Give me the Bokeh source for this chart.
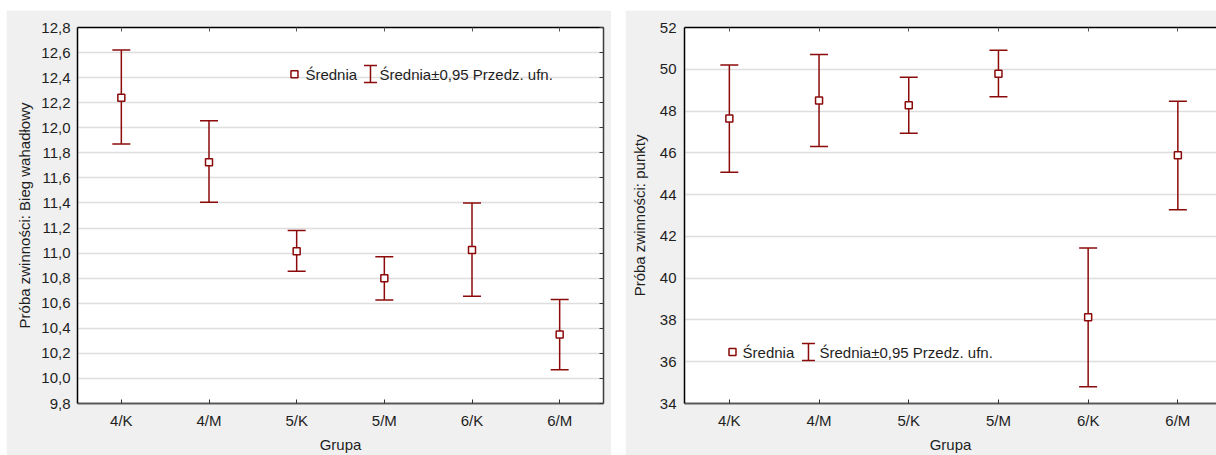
from bokeh.plotting import figure
from bokeh.layouts import row
from bokeh.models import (Range1d, FixedTicker, LinearAxis, Whisker, TeeHead,
                          ColumnDataSource, Label, CustomJSTickFormatter)
from bokeh.embed import file_html
from bokeh.resources import INLINE

# ---- data -------------------------------------------------------------
groups = ["4/K", "4/M", "5/K", "5/M", "6/K", "6/M"]

# shuttle run (Bieg wahadłowy): mean and 95% confidence interval
shuttle_mean = [12.24, 11.725, 11.015, 10.80, 11.025, 10.35]
shuttle_lower = [11.87, 11.405, 10.855, 10.625, 10.655, 10.07]
shuttle_upper = [12.62, 12.055, 11.18, 10.97, 11.40, 10.63]
shuttle_ticks = [9.8, 10.0, 10.2, 10.4, 10.6, 10.8, 11.0, 11.2, 11.4,
                 11.6, 11.8, 12.0, 12.2, 12.4, 12.6, 12.8]

# agility score (punkty): mean and 95% confidence interval
points_mean = [47.64, 48.51, 48.28, 49.78, 38.13, 45.89]
points_lower = [45.07, 46.30, 46.94, 48.68, 34.80, 43.27]
points_upper = [50.21, 50.71, 49.62, 50.91, 41.45, 48.47]
points_ticks = [34, 36, 38, 40, 42, 44, 46, 48, 50, 52]

legend_mean = "Średnia"
legend_ci = "Średnia±0,95 Przedz. ufn."
x_title = "Grupa"

# ---- style ------------------------------------------------------------
FONT = "Liberation Sans"
TXT = "#1e1e1e"
RED = "#8b0a0a"
PANEL_BG = "#f0f0f0"
GRID = "#dedede"

xs = [i + 0.5 for i in range(len(groups))]


def panel(y_title, mean, lower, upper, yticks, y_fmt, width, border_left,
          border_right, x_end, right_axis, legend_pos, margin_left):
    p = figure(width=width, height=445,
               x_range=Range1d(0, x_end),
               y_range=Range1d(yticks[0], yticks[-1]),
               output_backend="svg", toolbar_location=None,
               min_border_left=border_left, min_border_right=border_right,
               min_border_top=17, min_border_bottom=52,
               background_fill_color="white", border_fill_color=PANEL_BG,
               outline_line_color=None, margin=(10, 0, 0, margin_left))

    # bottom axis: group names
    xa = p.xaxis[0]
    xa.ticker = FixedTicker(ticks=xs)
    xa.formatter = CustomJSTickFormatter(
        args=dict(labels=groups), code="return labels[Math.round(tick - 0.5)];")
    xa.axis_label = x_title
    xa.axis_label_text_line_height = 1.0
    xa.axis_line_color = "#5a5a5a"
    xa.axis_line_width = 2
    xa.major_tick_in = 4
    xa.major_tick_out = 0
    xa.major_tick_line_color = "#333333"
    xa.minor_tick_line_color = None
    xa.major_label_standoff = 8
    xa.axis_label_standoff = 4

    # left axis
    ya = p.yaxis[0]
    ya.ticker = FixedTicker(ticks=yticks)
    ya.formatter = CustomJSTickFormatter(code=y_fmt)
    ya.axis_label = y_title
    ya.axis_line_color = "black"
    ya.axis_line_width = 1.5
    ya.major_tick_in = 0
    ya.major_tick_out = 0
    ya.minor_tick_line_color = None
    ya.major_label_standoff = 7 if right_axis else 8
    ya.axis_label_standoff = 5 if right_axis else 9

    for ax in (xa, ya):
        ax.major_label_text_font = FONT
        ax.major_label_text_font_size = "15px"
        ax.major_label_text_color = TXT
        ax.axis_label_text_font = FONT
        ax.axis_label_text_font_size = "15px"
        ax.axis_label_text_font_style = "normal"
        ax.axis_label_text_color = TXT

    blank = CustomJSTickFormatter(code="return '';")

    # top frame edge with inward ticks at the groups
    top = LinearAxis(ticker=FixedTicker(ticks=xs), formatter=blank,
                     axis_line_color="black", axis_line_width=1.5,
                     major_tick_in=4, major_tick_out=0,
                     major_tick_line_color="#555555",
                     minor_tick_line_color=None, major_label_standoff=0)
    p.add_layout(top, "above")

    if right_axis:
        r = LinearAxis(ticker=FixedTicker(ticks=yticks), formatter=blank,
                       axis_line_color="#3c3c3c", axis_line_width=1.5,
                       major_tick_in=4, major_tick_out=0,
                       major_tick_line_color="#3c3c3c",
                       minor_tick_line_color=None, major_label_standoff=0)
        p.add_layout(r, "right")

    p.xgrid.visible = False
    p.ygrid.ticker = FixedTicker(ticks=yticks)
    p.ygrid.grid_line_color = GRID
    p.ygrid.grid_line_width = 1.5

    # confidence intervals
    src = ColumnDataSource(dict(x=xs, mean=mean, lower=lower, upper=upper))
    w = Whisker(source=src, base="x", lower="lower", upper="upper",
                dimension="height", line_color=RED, line_width=1.5,
                level="underlay",
                upper_head=TeeHead(size=18, line_color=RED, line_width=1.5),
                lower_head=TeeHead(size=18, line_color=RED, line_width=1.5))
    p.add_layout(w)

    # means
    p.scatter("x", "mean", source=src, marker="square", size=7,
              fill_color="white", line_color=RED, line_width=1.5)

    # legend
    (sq_x, sq_y, t1_x, ic_x, ic_top, ic_bot, t2_x) = legend_pos
    lsrc = ColumnDataSource(dict(x=[sq_x], y=[sq_y]))
    p.scatter("x", "y", source=lsrc, marker="square", size=7,
              fill_color="white", line_color=RED, line_width=1.5)
    isrc = ColumnDataSource(dict(b=[ic_x], lo=[ic_bot], hi=[ic_top]))
    p.add_layout(Whisker(source=isrc, base="b", lower="lo", upper="hi",
                         dimension="height", line_color=RED, line_width=1.5,
                         upper_head=TeeHead(size=13, line_color=RED, line_width=1.5),
                         lower_head=TeeHead(size=13, line_color=RED, line_width=1.5)))
    for tx, txt in ((t1_x, legend_mean), (t2_x, legend_ci)):
        p.add_layout(Label(x=tx, y=sq_y, text=txt, text_font=FONT,
                           text_font_size="15px", text_color=TXT,
                           text_baseline="middle", text_align="left"))
    return p


left = panel("Próba zwinności: Bieg wahadłowy", shuttle_mean, shuttle_lower,
             shuttle_upper, shuttle_ticks,
             "return tick.toFixed(1).replace('.', ',');",
             width=605, border_left=71, border_right=8, x_end=6,
             right_axis=True,
             legend_pos=(2.475, 12.427, 2.60, 3.342, 12.497, 12.361, 3.445),
             margin_left=6)

right = panel("Próba zwinności: punkty", points_mean, points_lower,
              points_upper, points_ticks,
              "return tick.toFixed(0);",
              width=591, border_left=59, border_right=0, x_end=532 / 89.7,
              right_axis=False,
              legend_pos=(0.535, 36.46, 0.647, 1.382, 36.87, 36.06, 1.505),
              margin_left=14)

layout = row(left, right)
open("out.html", "w").write(file_html(layout, INLINE))
